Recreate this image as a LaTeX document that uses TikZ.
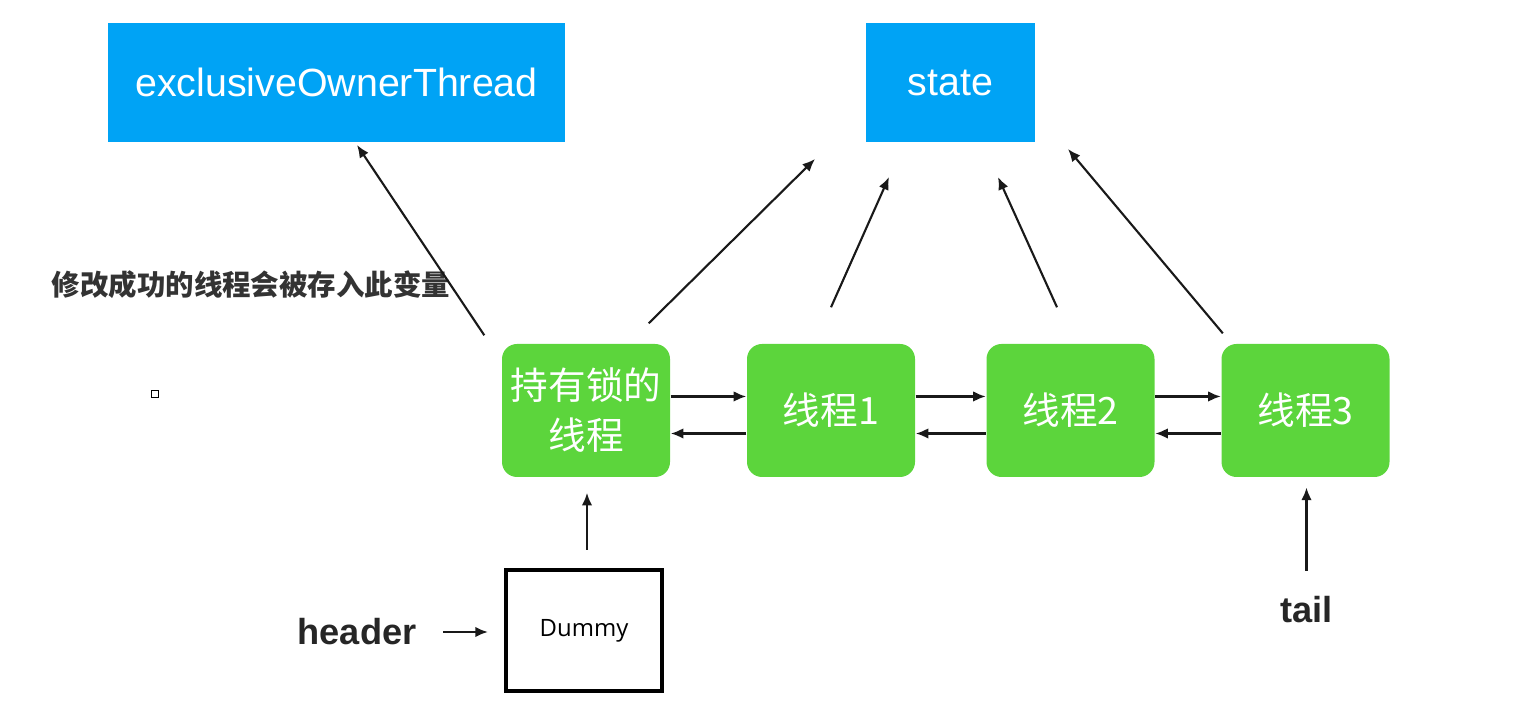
\documentclass[tikz,border=0pt]{standalone}
\usepackage{fontspec}
\setmainfont{Liberation Sans}
\newfontfamily\cjk{Noto Sans CJK SC}
\newfontfamily\dumfont{Open Sans}
\usepackage{tikz}
\usetikzlibrary{arrows.meta}
\definecolor{boxblue}{RGB}{0,163,245}
\definecolor{boxgreen}{RGB}{92,213,60}

\begin{document}
\begin{tikzpicture}
        [bstyle/.style={rectangle, fill=boxblue, text=white, inner sep=0pt, minimum height=1.19cm, font=\fontsize{11.2}{13}\selectfont},
        gstyle/.style={rectangle, rounded corners=0.15cm, fill=boxgreen, text=white, inner sep=0pt, minimum width=1.68cm, minimum height=1.33cm, align=center, font=\cjk\fontsize{10.7}{14.2}\selectfont},
        lstyle/.style={text=black!85, inner sep=0pt, font=\bfseries\fontsize{10.3}{12}\selectfont},
        dstyle/.style={-{Latex[length=3.6pt, width=3pt]}, semithick, black!90}]

        \useasboundingbox (0,0) rectangle (15.19,7.08);

        \node[bstyle, minimum width=4.57cm] (owner) at (3.365,6.255) {exclusiveOwnerThread};
        \node[bstyle, minimum width=1.69cm] (state) at (9.505,6.255) {state};
        \node[text=black!80, font=\cjk\bfseries\fontsize{8.1}{10}\selectfont] (note) at (2.51,4.23) {修改成功的线程会被存入此变量};
        \node[draw, inner sep=0pt, minimum size=0.07cm] (dot) at (1.55,3.14) {};

        \node[gstyle] (t0) at (5.86,2.975) {持有锁的\\线程};
        \node[gstyle] (t1) at (8.31,2.975) {线程1};
        \node[gstyle] (t2) at (10.705,2.975) {线程2};
        \node[gstyle] (t3) at (13.055,2.975) {线程3};

        \node[draw, line width=1.3pt, inner sep=0pt, minimum width=1.56cm, minimum height=1.21cm, font=\dumfont\fontsize{6.8}{8}\selectfont] (dummy) at (5.84,0.775) {Dummy};
        \node[lstyle] (header) at (3.57,0.76) {header};
        \node[lstyle] (tail) at (13.065,0.985) {tail};

        \coordinate (p1) at (3.57,5.63);
        \coordinate (p2) at (8.15,5.49);
        \coordinate (p3) at (8.89,5.31);
        \coordinate (p4) at (9.98,5.31);
        \coordinate (p5) at (10.68,5.59);

        \draw[dstyle] ([shift={(-0.17,0.08)}]t0.north west) -- (p1);
        \draw[dstyle] ([shift={(-0.22,0.20)}]t0.north east) -- (p2);
        \draw[dstyle] ([yshift=0.36cm]t1.north) -- (p3);
        \draw[dstyle] ([shift={(-0.135,0.36)}]t2.north) -- (p4);
        \draw[dstyle] ([shift={(0.02,0.10)}]t3.north west) -- (p5);

        \draw[dstyle] ([yshift=0.14cm]t0.east) -- ([yshift=0.14cm]t1.west);
        \draw[dstyle] ([yshift=-0.23cm]t1.west) -- ([yshift=-0.23cm]t0.east);
        \draw[dstyle] ([yshift=0.14cm]t1.east) -- ([yshift=0.14cm]t2.west);
        \draw[dstyle] ([yshift=-0.23cm]t2.west) -- ([yshift=-0.23cm]t1.east);
        \draw[dstyle] ([yshift=0.14cm]t2.east) -- ([yshift=0.14cm]t3.west);
        \draw[dstyle] ([yshift=-0.23cm]t3.west) -- ([yshift=-0.23cm]t2.east);

        \draw[dstyle, shorten <=5.1pt, shorten >=4.3pt] ([xshift=0.03cm]dummy.north) -- ([xshift=0.03cm]dummy.north |- t0.south);
        \draw[dstyle, shorten <=7.4pt, shorten >=4.5pt] (header.east) -- (header.east -| dummy.west);
        \draw[dstyle, shorten <=7.1pt, shorten >=2.8pt] (tail.north) -- (tail.north |- t3.south);
    \end{tikzpicture}
\end{document}
